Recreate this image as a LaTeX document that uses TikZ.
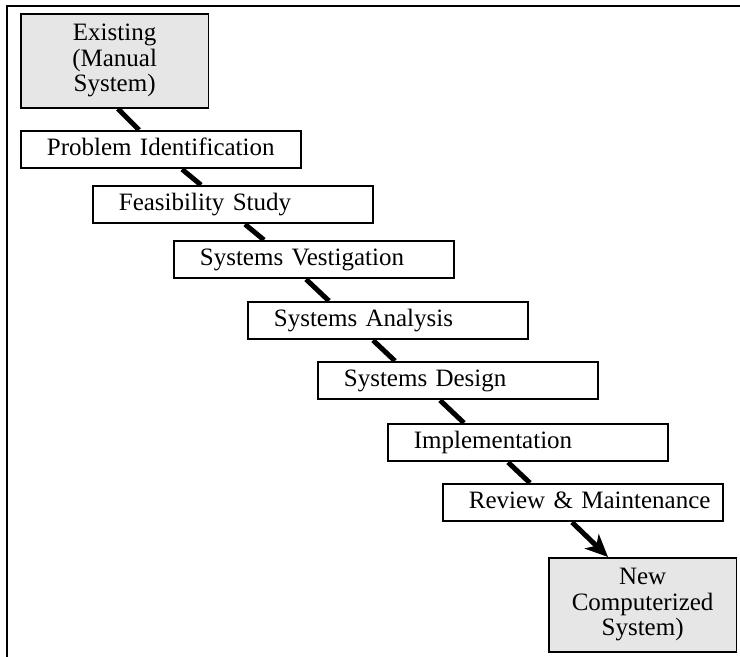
\documentclass[tikz,border=0pt]{standalone}
\usepackage{fontspec}
\setmainfont{Liberation Serif}
\usepackage{tikz}
\usetikzlibrary{arrows.meta,calc}

\definecolor{boxgray}{RGB}{230,230,230}

\begin{document}
\begin{tikzpicture}[x=0.4pt,y=-0.4pt,font=\fontsize{10}{10.2}\selectfont]
    \tikzstyle{stepbox}=[rectangle,draw,line width=0.7pt,anchor=north west,text width=104pt,inner xsep=4pt,inner ysep=0pt,align=left,minimum height=15pt,text height=7pt,text depth=2pt,execute at begin node={\hspace*{6.4pt}}]
    \tikzstyle{endbox}=[rectangle,draw,line width=0.7pt,anchor=north west,fill=boxgray,align=center,minimum width=75pt,minimum height=37.6pt,inner sep=0pt]
    \tikzstyle{link}=[line width=2pt]
    \useasboundingbox (0,0) rectangle (740,657);
    % frame on the top and left side
    \draw[line width=0.8pt] (7,657) -- (7,6) -- (740,6);
    \node [endbox] (exist) at (20,13) {Existing\\(Manual\\System)};
    \node [stepbox] (prob) at (20,130) {Problem Identification};
    \node [stepbox] (feas) at (92,185) {Feasibility Study};
    \node [stepbox] (vest) at (173,240) {Systems Vestigation};
    \node [stepbox] (anal) at (247,301) {Systems Analysis};
    \node [stepbox] (design) at (317,361) {Systems Design};
    \node [stepbox] (impl) at (387,423) {Implementation};
    \node [stepbox] (review) at (442,483) {Review \& Maintenance};
    \node [endbox] (newsys) at (548,557) {New\\Computerized\\System)};
    % the steps, one after the other
    \draw[link] ($(exist.south west)+(98,0)$) -- ($(prob.north west)+(119,0)$);
    \draw[link] ($(prob.south west)+(162,0)$) -- ($(feas.north west)+(109,0)$);
    \draw[link] ($(feas.south west)+(153,0)$) -- ($(vest.north west)+(91,0)$);
    \draw[link] ($(vest.south west)+(133,0)$) -- ($(anal.north west)+(82,0)$);
    \draw[link] ($(anal.south west)+(126,0)$) -- ($(design.north west)+(78,0)$);
    \draw[link] ($(design.south west)+(123,0)$) -- ($(impl.north west)+(77,0)$);
    \draw[link] ($(impl.south west)+(121,0)$) -- ($(review.north west)+(88,0)$);
    \draw[link,-{Stealth[length=9pt,width=8pt,inset=2.5pt]}] ($(review.south west)+(130,0)$) -- ($(newsys.north west)+(60,0)$);
\end{tikzpicture}
\end{document}
